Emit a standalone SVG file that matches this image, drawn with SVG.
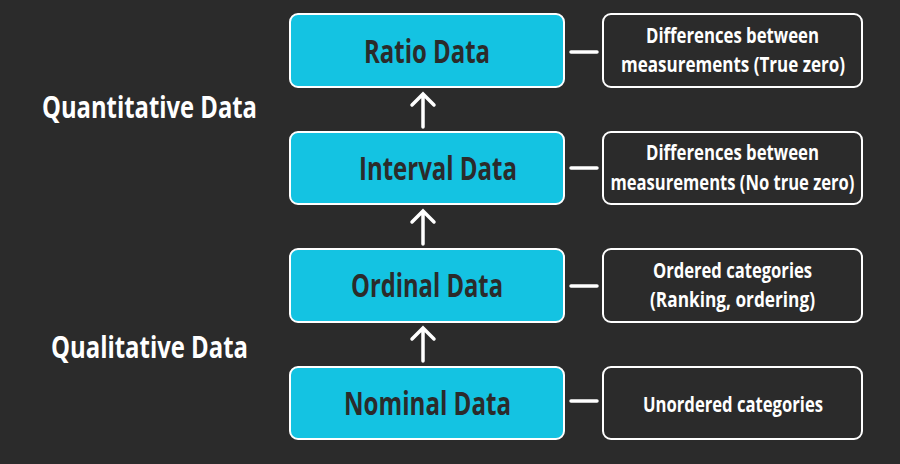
<svg xmlns="http://www.w3.org/2000/svg" width="900" height="464" viewBox="0 0 900 464">
<style>
.bg{fill:#2b2b2b}
.lvl{fill:#14c3e2;stroke:#ffffff;stroke-width:2}
.desc{fill:#2b2b2b;stroke:#ffffff;stroke-width:2}
.t{font-family:"Open Sans","Liberation Sans",sans-serif;font-weight:700;text-anchor:middle}
.lt{fill:#2b2b2b;font-size:32px}
.dt{fill:#ffffff;font-size:20.5px}
.side{fill:#ffffff;font-size:29.5px}
.con{stroke:#ffffff;stroke-width:3.5;stroke-linecap:round;fill:none}
</style>
<rect class="bg" x="0" y="0" width="900" height="464"/>
<g id="label-quantitative"><text class="t side" x="149.5" y="118" textLength="215" lengthAdjust="spacingAndGlyphs">Quantitative Data</text></g>
<g id="label-qualitative"><text class="t side" x="149.5" y="358" textLength="197" lengthAdjust="spacingAndGlyphs">Qualitative Data</text></g>
<g id="ratio"><rect class="lvl" x="290" y="14" width="274" height="73" rx="8"/><text class="t lt" x="427" y="63" textLength="126" lengthAdjust="spacingAndGlyphs">Ratio Data</text></g>
<g id="interval"><rect class="lvl" x="290" y="132" width="274" height="72" rx="8"/><text class="t lt" x="438" y="180" textLength="158" lengthAdjust="spacingAndGlyphs">Interval Data</text></g>
<g id="ordinal"><rect class="lvl" x="290" y="249" width="274" height="73" rx="8"/><text class="t lt" x="427" y="297" textLength="152" lengthAdjust="spacingAndGlyphs">Ordinal Data</text></g>
<g id="nominal"><rect class="lvl" x="290" y="367" width="274" height="72" rx="8"/><text class="t lt" x="427.5" y="415" textLength="167" lengthAdjust="spacingAndGlyphs">Nominal Data</text></g>
<g id="ratio-desc"><rect class="desc" x="603" y="14" width="259" height="73" rx="8"/><text class="t dt" x="732.5" y="43" textLength="173" lengthAdjust="spacingAndGlyphs">Differences between</text><text class="t dt" x="733" y="72" textLength="224" lengthAdjust="spacingAndGlyphs">measurements (True zero)</text></g>
<g id="interval-desc"><rect class="desc" x="603" y="132" width="259" height="72" rx="8"/><text class="t dt" x="732.5" y="160" textLength="173" lengthAdjust="spacingAndGlyphs">Differences between</text><text class="t dt" x="732.5" y="190" textLength="244" lengthAdjust="spacingAndGlyphs">measurements (No true zero)</text></g>
<g id="ordinal-desc"><rect class="desc" x="603" y="249" width="259" height="73" rx="8"/><text class="t dt" x="732.5" y="278" textLength="159" lengthAdjust="spacingAndGlyphs">Ordered categories</text><text class="t dt" x="732.5" y="307" textLength="165" lengthAdjust="spacingAndGlyphs">(Ranking, ordering)</text></g>
<g id="nominal-desc"><rect class="desc" x="603" y="367" width="259" height="72" rx="8"/><text class="t dt" x="733" y="412" textLength="180" lengthAdjust="spacingAndGlyphs">Unordered categories</text></g>
<g id="connectors">
<path class="con" d="M423 127V94M412 105L423 94L434 105"/>
<path class="con" d="M423 244V211M412 222L423 211L434 222"/>
<path class="con" d="M423 361V328M412 339L423 328L434 339"/>
<path class="con" d="M571 52H597"/>
<path class="con" d="M571 168H597"/>
<path class="con" d="M571 286H597"/>
<path class="con" d="M571 401H597"/>
</g>
</svg>
